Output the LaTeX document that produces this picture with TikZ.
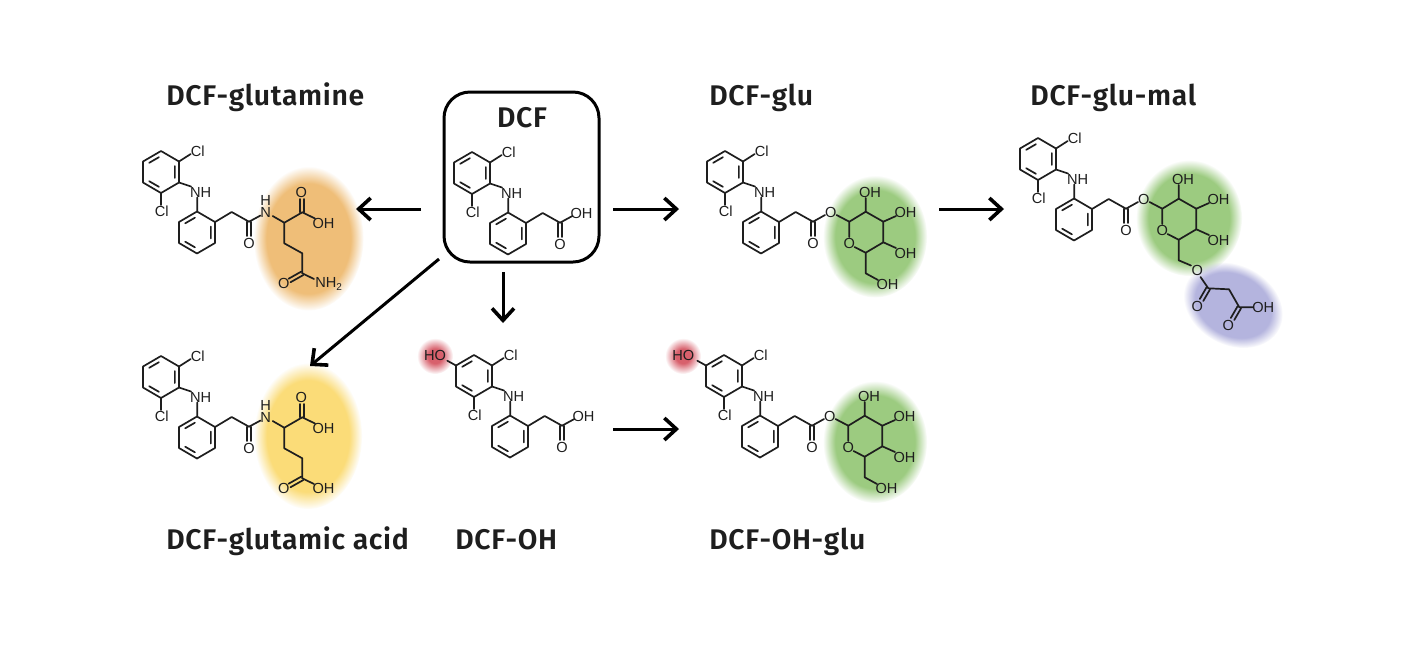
\documentclass[tikz,border=0pt]{standalone}
\usepackage{fontspec}
\usetikzlibrary{arrows.meta,calc,fadings}
\setmainfont{Liberation Sans}
\newfontfamily\tfont[LetterSpace=2.3,BoldFont={Fira Sans SemiBold}]{Fira Sans}
\newcounter{atom}
\definecolor{ink}{HTML}{1E1E1E}
\definecolor{orangeb}{HTML}{EFBE78}
\definecolor{yellowb}{HTML}{FBDC78}
\definecolor{greenb}{HTML}{9CCB80}
\definecolor{purpleb}{HTML}{B4B4DE}
\definecolor{redb}{HTML}{D8606C}
\pgfdeclareradialshading{softbs}{\pgfpointorigin}{color(0bp)=(pgftransparent!0); color(19bp)=(pgftransparent!0); color(25bp)=(pgftransparent!100); color(50bp)=(pgftransparent!100)}
\pgfdeclarefading{softb}{\pgfuseshading{softbs}}
\pgfdeclareradialshading{softrs}{\pgfpointorigin}{color(0bp)=(pgftransparent!0); color(10bp)=(pgftransparent!0); color(25bp)=(pgftransparent!100); color(50bp)=(pgftransparent!100)}
\pgfdeclarefading{softr}{\pgfuseshading{softrs}}
\tikzset{
  bond/.style={line width=0.85pt,draw=ink,line cap=round,line join=round},
  lab/.style={font=\fontsize{7.3}{7.3}\selectfont,text=ink,inner sep=0pt},
  ttl/.style={font=\tfont\bfseries\fontsize{14.2}{14}\selectfont,text=ink,inner sep=0pt,anchor=base west},
  rxn/.style={line width=1.5pt,draw=black,-{Straight Barb[length=6pt,width=11pt,line width=1.8pt]}},
  dcfbox/.style={draw=black,line width=1.5pt,rounded corners=13pt,minimum width=77.5pt,minimum height=85pt,inner sep=0pt},
}
\newcommand\lb[2]{\stepcounter{atom}\node[lab] (atom\arabic{atom}) at (#1) {#2};}
\newcommand\dbl[2]{\draw[bond] ($(#1)!1pt!90:(#2)$) -- ($(#2)!1pt!-90:(#1)$); \draw[bond] ($(#1)!1pt!-90:(#2)$) -- ($(#2)!1pt!90:(#1)$);}
\newcommand\ringat[2]{\begin{scope}[shift={(#1,#2)}]
  \draw[bond] (0,-21)--(18,-10.5)--(18,10.5)--(0,21)--(-18,10.5)--(-18,-10.5)--cycle;
  \draw[bond] (-11.8,-9.2)--(-2.1,-14.8) (13.86,-6)--(13.86,6) (-11.8,9.2)--(-2.1,14.8);
\end{scope}}
\newcommand\core{%
  \ringat{0}{0}\ringat{36}{60.5}
  \draw[bond] (18,-10.5)--(29.7,-18) (18,10.5)--(30,14.5) (0,21)--(0,33) (36.3,25.5)--(36.3,39.5);
  \draw[bond] (54,50)--(70.7,40)--(88,49.7);
  \lb{36.7,-21}{Cl}\lb{39.7,20}{NH}\lb{0.7,39.5}{Cl}
  \dbl{88,49.7}{88,64}\lb{88,71}{O}
}
\newcommand\acid{\draw[bond] (88,49.7)--(100.3,43);\lb{109.5,40}{OH}}
\newcommand\chain{%
  \draw[bond] (88,49.7)--(99.5,43.5) (111.7,44)--(123.3,50.7)--(141.3,40.3) (123.3,50.7)--(123.3,71.3)--(141.3,81.3)--(141.3,101.3);
  \draw[bond] (141.3,40.3)--(154,46.5) (141.3,101.3)--(153,107);
  \lb{104.7,40.5}{N}\lb{104.7,28}{H}
  \dbl{141.3,40.3}{141.3,27}\lb{140.3,20.5}{O}\lb{162.5,51}{OH}
  \dbl{141.3,101.3}{128.5,108.5}
  \lb{122.7,111.7}{O}
}
\newcommand\sugar{%
  \draw[bond] (88,49.7)--(100,43) (111.5,43)--(124.3,49.7)--(140.7,39.7)--(158.3,49.7)--(158.3,70.3)--(140.7,80.7)--(129.5,75);
  \draw[bond] (124.3,65)--(124.3,49.7) (140.7,39.7)--(140.7,26) (158.3,49.7)--(171,44) (158.3,70.3)--(171,76) (140.7,80.7)--(140.7,101.3);
  \lb{105.7,40}{O}\lb{124.3,71}{O}\lb{145,20.3}{OH}\lb{180.5,40}{OH}\lb{180.5,81}{OH}
}
\newcommand\blob[5]{\fill[#5,path fading=softb,fit fading=true] (#1,#2) ellipse [x radius=#3*0.5pt,y radius=#4*0.5pt];}
\newcommand\glow[2]{\fill[redb,path fading=softr,fit fading=true] (#1,#2) circle [radius=9pt];}
\begin{document}
\begin{tikzpicture}[x=0.5pt,y=-0.5pt]
\useasboundingbox (0,0) rectangle (1417,650);
\fill[white] (0,0) rectangle (1417,650);
\blob{308.5}{238.5}{55}{72}{orangeb}
\blob{308}{436}{54}{73}{yellowb}
\blob{875}{236.5}{52}{61}{greenb}
\blob{875}{442}{52}{61}{greenb}
\blob{1189}{218}{53}{58}{greenb}
\begin{scope}[transform canvas={shift={(616.5pt,-152.5pt)},rotate=-28}]
  \fill[purpleb,path fading=softb,fit fading=true] (0,0) ellipse [x radius=26pt,y radius=20pt];
\end{scope}
\glow{435}{356}\glow{683}{356}
\node[dcfbox] (dcf) at (521.5,177) {};
\node[ttl,anchor=base] (tdcf) at (522,127) {DCF};
\node[ttl] (t1) at (166,105) {DCF-glutamine};
\node[ttl] (t2) at (709,105) {DCF-glu};
\node[ttl] (t3) at (1030,105) {DCF-glu-mal};
\node[ttl] (t4) at (166,549) {DCF-glutamic acid};
\node[ttl] (t5) at (455,549) {DCF-OH};
\node[ttl] (t6) at (709,549) {DCF-OH-glu};
\begin{scope}[shift={(472,173)}]\core\acid\end{scope}
\begin{scope}[shift={(161,172)}]\core\chain
  \stepcounter{atom}\node[lab,anchor=west] (atom\arabic{atom}) at (154,112) {NH\raisebox{-1.6pt}{\fontsize{5}{5}\selectfont 2}};
\end{scope}
\begin{scope}[shift={(161,377)}]\core\chain\lb{162.5,111.7}{OH}\end{scope}
\begin{scope}[shift={(725,172)}]\core\sugar
  \draw[bond] (140.7,101.3)--(153,108);\lb{162.5,112}{OH}\end{scope}
\begin{scope}[shift={(1038,159)}]\core\sugar\draw[bond] (140.7,101.3)--(153,106.5);\end{scope}
\draw[bond] (1200.5,277)--(1208.3,288.3)--(1229,289.3)--(1239.3,307.3)--(1253,307.3);
\dbl{1208.3,288.3}{1201.5,300}
\dbl{1239.3,307.3}{1232.5,319}
\lb{1197.3,270.7}{O}\lb{1197.3,306.7}{O}\lb{1263.3,307.3}{OH}\lb{1228.3,325}{O}
\begin{scope}[shift={(474,376)}]\core\acid\draw[bond] (-18,-10.5)--(-26.7,-15.3);\lb{-39,-20.3}{HO}\end{scope}
\begin{scope}[shift={(724,376)}]\core\sugar
  \draw[bond] (140.7,101.3)--(153,108);\lb{162.5,112}{OH}
  \draw[bond] (-18,-10.5)--(-26.7,-15.3);\lb{-40.7,-20.3}{HO}\end{scope}
\coordinate (a1) at (421,209); \coordinate (b1) at (356,209);
\coordinate (a2) at (613,209); \coordinate (b2) at (679,209);
\coordinate (a3) at (939,209); \coordinate (b3) at (1004,209);
\coordinate (a4) at (503,272); \coordinate (b4) at (503,323);
\coordinate (a5) at (439,259); \coordinate (b5) at (310,366);
\coordinate (a6) at (613,429); \coordinate (b6) at (679,429);
\foreach \i in {1,...,6} {\draw[rxn] (a\i) -- (b\i);}
\end{tikzpicture}
\end{document}
